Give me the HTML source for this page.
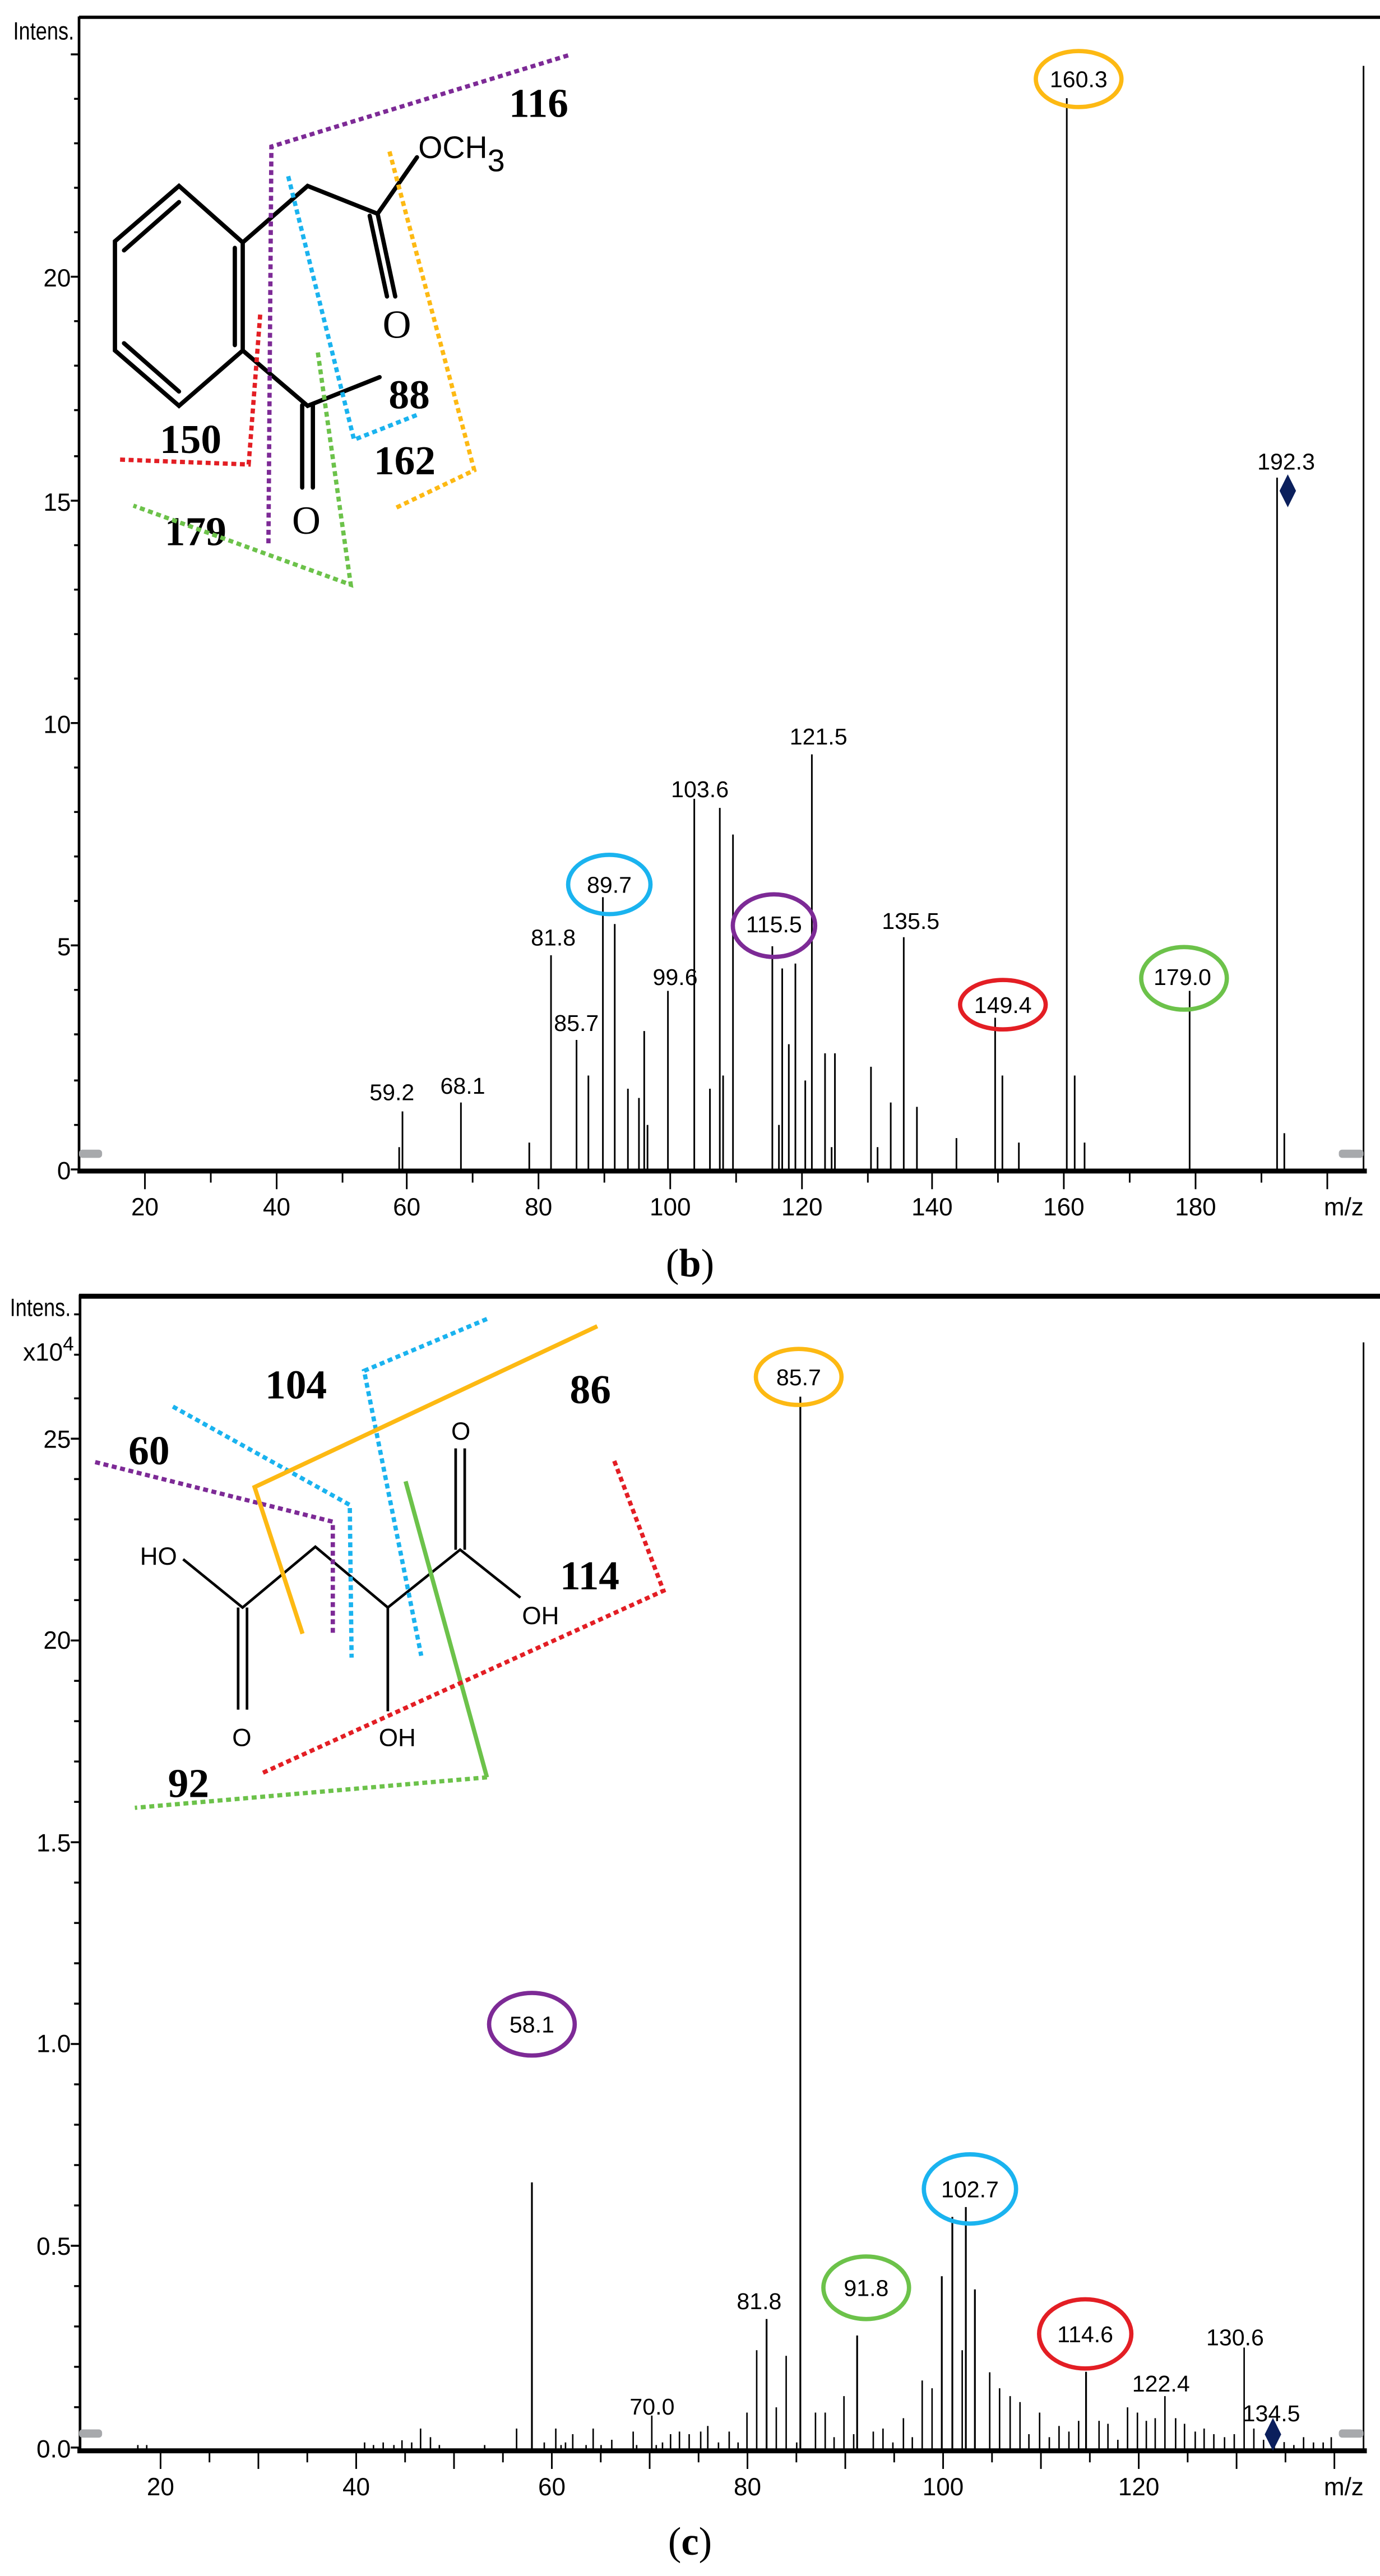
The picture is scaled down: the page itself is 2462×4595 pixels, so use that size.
<!DOCTYPE html>
<html><head><meta charset="utf-8"><style>
html,body{margin:0;padding:0;background:#fff;}
svg{display:block;}
.n{font-family:"Liberation Sans",sans-serif;font-size:14px;fill:#000;}
.a{font-family:"Liberation Sans",sans-serif;font-size:15px;fill:#000;}
.s{font-family:"Liberation Serif",serif;font-weight:bold;font-size:25px;fill:#000;}
.c{font-family:"Liberation Serif",serif;font-size:24px;fill:#000;}
.m{font-family:"Liberation Sans",sans-serif;font-size:19px;fill:#000;}
</style></head><body>
<svg width="2462" height="4595" viewBox="0 0 838 1564" preserveAspectRatio="none" xmlns="http://www.w3.org/2000/svg">
<rect width="838" height="1564" fill="#fff"/>
<!-- ============ PANEL B ============ -->
<g stroke="#000" fill="none">
<path d="M48 10.5 H838" stroke-width="2"/>
<path d="M48 10 V711" stroke-width="1.6"/>
<path d="M47 711 H830" stroke-width="3"/>
<path d="M828 40 V711" stroke-width="1"/>
<path d="M43 710H48M45 683H48M45 656H48M45 628H48M45 601H48M43 574H48M45 547H48M45 520H48M45 493H48M45 466H48M43 439H48M45 412H48M45 385H48M45 358H48M45 331H48M43 304H48M45 277H48M45 249H48M45 222H48M45 195H48M43 168H48M45 141H48M45 114H48M45 87H48M45 60H48M43 33H48" stroke-width="1.2"/>
<path d="M88 712v10M128 712v6M168 712v10M208 712v6M247 712v10M287 712v6M327 712v10M367 712v6M407 712v10M447 712v6M487 712v10M527 712v6M566 712v10M606 712v6M646 712v10M686 712v6M726 712v10M766 712v6M806 712v10" stroke-width="1"/>
<path stroke-width="1" d="M242.4 710V696.5M244.4 710V674.8M279.9 710V669.4M321.4 710V693.7M334.6 710V580M350.1 710V631.4M357.3 710V653M366.1 710V544.7M373.3 710V561M381.3 710V661M388 710V666.6M391.2 710V626M393.2 710V683M405.6 710V601.6M421.6 710V485M431.1 710V661M437.1 710V490.5M439.1 710V653M445.1 710V506.7M469 710V574.5M473 710V683M475 710V588M479 710V634M483 710V585M489 710V656M493 710V458M501 710V639.5M505 710V696.5M507 710V639.5M528.9 710V647.7M532.9 710V696.5M540.9 710V669.4M548.8 710V569M556.8 710V672M580.8 710V691M604.3 710V617.9M608.7 710V653M618.7 710V693.7M647.8 710V59.6M652.6 710V653M658.6 710V693.7M722.4 710V601.6M775.5 710V290M779.9 710V688"/>
</g>
<rect x="48" y="698" width="14" height="5" rx="2" fill="#a7a9ac"/>
<rect x="813" y="698" width="15" height="5" rx="2" fill="#a7a9ac"/>
<path d="M782 288 L787 298 L782 308 L777 298Z" fill="#0b1f5c"/>
<text class="a" x="8" y="24" textLength="37" lengthAdjust="spacingAndGlyphs">Intens.</text>
<g class="a" text-anchor="end">
<text x="43" y="174">20</text><text x="43" y="310">15</text><text x="43" y="445">10</text><text x="43" y="580">5</text><text x="43" y="716">0</text>
</g>
<g class="a" text-anchor="middle">
<text x="88" y="738">20</text><text x="168" y="738">40</text><text x="247" y="738">60</text><text x="327" y="738">80</text><text x="407" y="738">100</text><text x="487" y="738">120</text><text x="566" y="738">140</text><text x="646" y="738">160</text><text x="726" y="738">180</text><text x="816" y="738">m/z</text>
</g>
<g class="n" text-anchor="middle">
<text x="238" y="668">59.2</text><text x="281" y="664">68.1</text><text x="336" y="574">81.8</text><text x="350" y="626">85.7</text><text x="370" y="542">89.7</text><text x="410" y="598">99.6</text><text x="425" y="484">103.6</text><text x="470" y="566">115.5</text><text x="497" y="452">121.5</text><text x="553" y="564">135.5</text><text x="609" y="615">149.4</text><text x="655" y="53">160.3</text><text x="718" y="598">179.0</text><text x="781" y="285">192.3</text>
</g>
<g fill="none" stroke-width="2.6">
<ellipse cx="655" cy="48" rx="26" ry="17" stroke="#fdb913"/>
<ellipse cx="370" cy="537" rx="25" ry="18" stroke="#1ab3ef"/>
<ellipse cx="470" cy="562" rx="25" ry="19" stroke="#7d2a96"/>
<ellipse cx="609" cy="610" rx="26" ry="15" stroke="#e31e24"/>
<ellipse cx="719" cy="594" rx="26" ry="19" stroke="#6cc24a"/>
</g>
<g stroke="#000" stroke-width="2.6" fill="none" stroke-linecap="round">
<path d="M108.7 112.9L69.8 146.5V212.8L108.7 246.4L147.4 212.8V147.2Z"/>
<path d="M75.3 152L108.7 122.7M75.3 208.4L108.7 237.7M142.6 150.5V209.5"/>
<path d="M147.4 147.2L186.8 112.9L229.3 129.8L253.2 95.5"/>
<path d="M229.3 129.8L240 180M224.5 131L235 180"/>
<path d="M147.4 212.8L186.8 246.4L230.5 229"/>
<path d="M183.5 246V296M190 246V296"/>
</g>
<text class="c" x="241" y="205" text-anchor="middle">O</text>
<text class="c" x="186" y="324" text-anchor="middle">O</text>
<text class="m" x="254" y="96" font-size="25" textLength="42" lengthAdjust="spacingAndGlyphs">OCH</text>
<text class="m" x="296" y="104" font-size="17">3</text>
<g class="s">
<text x="309" y="71">116</text><text x="236" y="248">88</text><text x="97" y="275">150</text><text x="227" y="288">162</text><text x="100" y="331">179</text>
</g>
<g fill="none" stroke-width="2.6" stroke-dasharray="3 2.2">
<path d="M345 33.6L164.8 89L163 331" stroke="#7d2a96"/>
<path d="M175 107L215 267L253 252" stroke="#1ab3ef"/>
<path d="M236.5 92L288 285.5L239 309" stroke="#fdb913"/>
<path d="M158 191L151 282L71.7 279" stroke="#e31e24"/>
<path d="M193 214L213 355L81 307" stroke="#6cc24a"/>
</g>
<text class="c" x="419" y="775" text-anchor="middle">(<tspan font-weight="bold">b</tspan>)</text>

<!-- ============ PANEL C ============ -->
<g stroke="#000" fill="none">
<path d="M48 787 H838" stroke-width="3"/>
<path d="M48.6 786 V1489" stroke-width="1.6"/>
<path d="M47 1488 H830" stroke-width="3"/>
<path d="M828 815 V1488" stroke-width="1"/>
<path d="M43 1486H48M45 1461.5H48M45 1437H48M45 1412.5H48M45 1388H48M43 1363.5H48M45 1339H48M45 1314.5H48M45 1290H48M45 1265.5H48M43 1241H48M45 1216.5H48M45 1192H48M45 1167.5H48M45 1143H48M43 1118.5H48M45 1094H48M45 1069.5H48M45 1045H48M45 1020.5H48M43 996H48M45 971.5H48M45 947H48M45 922.5H48M45 898H48M43 873.5H48M45 849H48M45 822.5H48M45 798H48" stroke-width="1.2"/>
<path d="M97.5 1489v10M127.2 1489v6M156.9 1489v10M186.6 1489v6M216.3 1489v10M246 1489v6M275.7 1489v10M305.4 1489v6M335.1 1489v10M364.8 1489v6M394.5 1489v10M424.2 1489v6M453.9 1489v10M483.6 1489v6M513.3 1489v10M543 1489v6M572.7 1489v10M602.4 1489v6M632.1 1489v10M661.8 1489v6M691.5 1489v10M721.2 1489v6M750.9 1489v10M780.6 1489v6M810.3 1489v10" stroke-width="1"/>
<path stroke-width="0.9" d="M83.7 1487v-2.5M89.1 1487v-2.5M221.4 1487v-4.1M226.8 1487v-2.5M232.7 1487v-4.1M239.2 1487v-2.5M244.1 1487v-5.4M250 1487v-4.1M255.4 1487v-12.5M261.4 1487v-7.3M266.8 1487v-2.5M294.3 1487v-2.5M313.7 1487v-12.5M330.5 1487v-4.1M337.5 1487v-12.5M340.7 1487v-2.5M343.4 1487v-4.1M347.8 1487v-9.1M355.9 1487v-2.5M360.2 1487v-12.5M365 1487v-2.5M371.5 1487v-5.7M384.5 1487v-10.7M386.6 1487v-2.5M395.8 1487v-20.4M398.5 1487v-2.5M402.3 1487v-4.1M407.2 1487v-9.1M412.6 1487v-10.7M418.5 1487v-9.1M425.5 1487v-10.7M429.8 1487v-14.1M436.3 1487v-4.1M442.8 1487v-10.7M448.2 1487v-4.1M453.6 1487v-22.2M459.5 1487v-60.1M471.4 1487v-25.4M477.4 1487v-56.7M483.8 1487v-4.1M495.2 1487v-22.2M501.1 1487v-22.2M506.5 1487v-7.3M512.5 1487v-32.2M518.4 1487v-9.1M530.3 1487v-10.7M536.2 1487v-12.5M542.2 1487v-4.1M548.6 1487v-18.8M554 1487v-7.3M560 1487v-41.7M566 1487v-37M584.3 1487v-60.1M601 1487v-46.7M607 1487v-37M613.4 1487v-32.2M619.4 1487v-28.6M624.8 1487v-9.1M631.3 1487v-22.2M637.2 1487v-7.3M643.1 1487v-14.1M649.1 1487v-10.7M655 1487v-17.2M667.4 1487v-17.2M672.8 1487v-15.4M678.8 1487v-5.7M684.7 1487v-25.4M690.7 1487v-22.2M696.1 1487v-17.2M701.5 1487v-18.8M707.4 1487v-32.2M713.9 1487v-18.8M719.3 1487v-15.4M725.8 1487v-10.7M731.2 1487v-12.5M737.1 1487v-9.1M743.6 1487v-7.3M749.5 1487v-9.1M755.5 1487v-61.7M761.4 1487v-12.5M767.3 1487v-5.7M773.8 1487v-5.7M779.8 1487v-4.3M785.7 1487v-2.5M791.6 1487v-7.3M797.6 1487v-4.1M803.5 1487v-4.1M808.4 1487v-7.3"/>
<path stroke-width="1.1" d="M323 1487V1325M465.5 1487V1408M486 1487V848M520.5 1487V1418M571.9 1487V1382M578.3 1487V1346M586.5 1487V1340M592 1487V1390M659.5 1487V1440"/>
</g>
<rect x="48" y="1475" width="14" height="5" rx="2" fill="#a7a9ac"/>
<rect x="813" y="1475" width="15" height="5" rx="2" fill="#a7a9ac"/>
<path d="M773 1468 L778 1478 L773 1488 L768 1478Z" fill="#0b1f5c"/>
<text class="a" x="6" y="799" textLength="37" lengthAdjust="spacingAndGlyphs">Intens.</text>
<text class="a" x="14" y="826">x10<tspan dy="-6" font-size="12">4</tspan></text>
<g class="a" text-anchor="end">
<text x="43" y="879">25</text><text x="43" y="1001">20</text><text x="43" y="1124">1.5</text><text x="43" y="1246">1.0</text><text x="43" y="1369">0.5</text><text x="43" y="1492">0.0</text>
</g>
<g class="a" text-anchor="middle">
<text x="97.5" y="1515">20</text><text x="216.3" y="1515">40</text><text x="335.1" y="1515">60</text><text x="453.9" y="1515">80</text><text x="572.7" y="1515">100</text><text x="691.5" y="1515">120</text><text x="816" y="1515">m/z</text>
</g>
<g class="n" text-anchor="middle">
<text x="323" y="1234">58.1</text><text x="396" y="1466">70.0</text><text x="461" y="1402">81.8</text><text x="485" y="841">85.7</text><text x="526" y="1394">91.8</text><text x="589" y="1334">102.7</text><text x="659" y="1422">114.6</text><text x="705" y="1452">122.4</text><text x="750" y="1424">130.6</text><text x="772" y="1470">134.5</text>
</g>
<g fill="none" stroke-width="2.6">
<ellipse cx="485" cy="836" rx="26" ry="17" stroke="#fdb913"/>
<ellipse cx="323" cy="1229" rx="26" ry="19" stroke="#7d2a96"/>
<ellipse cx="526" cy="1389" rx="26" ry="19" stroke="#6cc24a"/>
<ellipse cx="589" cy="1329" rx="28" ry="21" stroke="#1ab3ef"/>
<ellipse cx="659" cy="1417" rx="28" ry="21" stroke="#e31e24"/>
</g>
<g stroke="#000" stroke-width="1.6" fill="none">
<path d="M111.2 946.7L147.3 976L191.5 939.1L235.5 976L279.4 940.9L316 970"/>
<path d="M144.6 976V1038M150 976V1038"/>
<path d="M276.7 940.9V879.4M282.2 940.9V879.4"/>
<path d="M235.5 976V1039"/>
</g>
<g class="a" font-size="18">
<text x="85" y="950">HO</text><text x="141" y="1060">O</text><text x="274" y="874">O</text><text x="317" y="986">OH</text><text x="230" y="1060">OH</text>
</g>
<g class="s">
<text x="161" y="849">104</text><text x="346" y="852">86</text><text x="78" y="889">60</text><text x="340" y="965">114</text><text x="102" y="1091">92</text>
</g>
<g fill="none" stroke-width="2.6">
<path d="M57.8 887.7L202.1 923.9L202.1 991.9" stroke="#7d2a96" stroke-dasharray="3 2.2"/>
<path d="M105 854L212.4 913.7L213.5 1006.4" stroke="#1ab3ef" stroke-dasharray="3 2.2"/>
<path d="M295.7 800.8L221.1 832.3L255.8 1005.3" stroke="#1ab3ef" stroke-dasharray="3 2.2"/>
<path d="M362.7 805.2L154.6 902.9L183.7 991.9" stroke="#fdb913"/>
<path d="M246.3 899.4L295.7 1079.1" stroke="#6cc24a"/>
<path d="M295.7 1079.1L81.9 1097.6" stroke="#6cc24a" stroke-dasharray="3 2.2"/>
<path d="M373 887L402.9 965.8L158.2 1077" stroke="#e31e24" stroke-dasharray="3 2.2"/>
</g>
<text class="c" x="419" y="1551" text-anchor="middle">(<tspan font-weight="bold">c</tspan>)</text>
</svg>
</body></html>
